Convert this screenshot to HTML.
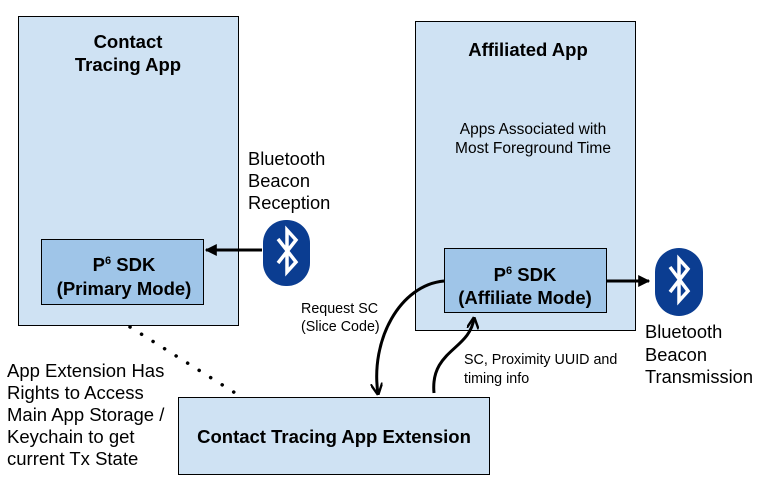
<!DOCTYPE html>
<html><head><meta charset="utf-8"><style>
html,body{margin:0;padding:0;background:#fff;}
svg{display:block;}
text{font-family:"Liberation Sans",Arial,sans-serif;}
</style></head><body>
<svg width="766" height="485" viewBox="0 0 766 485" xmlns="http://www.w3.org/2000/svg">
<defs>
<marker id="ah" viewBox="0 0 10 10" refX="9" refY="5" markerWidth="4" markerHeight="4" orient="auto-start-reverse" markerUnits="strokeWidth">
<path d="M0,0 L10,5 L0,10 z" fill="#000"/></marker>
<marker id="oa" viewBox="0 0 10 10" refX="9" refY="5" markerWidth="4" markerHeight="4" orient="auto" markerUnits="strokeWidth">
<path d="M0,0 L10,5 L0,10" fill="none" stroke="#000" stroke-width="2"/></marker>
</defs>
<rect x="18.5" y="16.5" width="220" height="309" fill="#cfe2f3" stroke="#000" stroke-width="1"/>
<text x="128" y="48" font-size="18.5" font-weight="bold" text-anchor="middle">Contact</text>
<text x="128" y="71" font-size="18.5" font-weight="bold" text-anchor="middle">Tracing App</text>
<rect x="41.5" y="239.5" width="162" height="65" fill="#9fc5e8" stroke="#000"/>
<text x="124" y="271" font-size="18.5" font-weight="bold" text-anchor="middle">P<tspan font-size="11" dy="-7">6</tspan><tspan dy="7"> SDK</tspan></text>
<text x="124" y="295" font-size="18.5" font-weight="bold" text-anchor="middle">(Primary Mode)</text>
<text x="248" y="165" font-size="18.3">Bluetooth</text>
<text x="248" y="187" font-size="18.3">Beacon</text>
<text x="248" y="209" font-size="18.3">Reception</text>
<rect x="263" y="220" width="47" height="66" rx="23" fill="#0b3d91"/>
<path d="M278,239 L296,262 L287,272 L287,230 L296,240 L278,263" fill="none" stroke="#fff" stroke-width="3.5" stroke-linejoin="miter"/>
<line x1="262" y1="250" x2="206" y2="250" stroke="#000" stroke-width="3" marker-end="url(#ah)"/>
<rect x="415.5" y="21.5" width="220" height="309" fill="#cfe2f3" stroke="#000"/>
<text x="528" y="56" font-size="18.5" font-weight="bold" text-anchor="middle">Affiliated App</text>
<text x="533" y="134" font-size="15.5" text-anchor="middle">Apps Associated with</text>
<text x="533" y="153" font-size="15.5" text-anchor="middle">Most Foreground Time</text>
<rect x="444.5" y="248.5" width="162" height="64" fill="#9fc5e8" stroke="#000"/>
<text x="525" y="281" font-size="18.5" font-weight="bold" text-anchor="middle">P<tspan font-size="11" dy="-7">6</tspan><tspan dy="7"> SDK</tspan></text>
<text x="525" y="304" font-size="18.5" font-weight="bold" text-anchor="middle">(Affiliate Mode)</text>
<line x1="607" y1="281" x2="649" y2="281" stroke="#000" stroke-width="3" marker-end="url(#ah)"/>
<rect x="655" y="248" width="48" height="68" rx="24" fill="#0b3d91"/>
<path d="M670,267 L688,291 L679,301 L679,259 L688,269 L670,292" fill="none" stroke="#fff" stroke-width="3.5"/>
<text x="645" y="338" font-size="18.3">Bluetooth</text>
<text x="645" y="361" font-size="18.3">Beacon</text>
<text x="645" y="383" font-size="18.3">Transmission</text>
<rect x="178.5" y="397.5" width="311" height="77" fill="#cfe2f3" stroke="#000"/>
<text x="334" y="443" font-size="18.5" font-weight="bold" text-anchor="middle">Contact Tracing App Extension</text>
<line x1="130" y1="327" x2="240" y2="396" stroke="#000" stroke-width="3.5" stroke-dasharray="0.1 13.5" stroke-linecap="round"/>
<text x="7" y="377" font-size="18.5">App Extension Has</text>
<text x="7" y="399" font-size="18.5">Rights to Access</text>
<text x="7" y="421" font-size="18.5">Main App Storage /</text>
<text x="7" y="443" font-size="18.5">Keychain to get</text>
<text x="7" y="465" font-size="18.5">current Tx State</text>
<path d="M444,281 C400,285 370,340 378,394" fill="none" stroke="#000" stroke-width="3" marker-end="url(#oa)"/>
<path d="M434,393 C430,350 470,350 474,318" fill="none" stroke="#000" stroke-width="3" marker-end="url(#oa)"/>
<text x="301" y="313" font-size="14.3">Request SC</text>
<text x="301" y="331" font-size="14.3">(Slice Code)</text>
<text x="464" y="364" font-size="14.3">SC, Proximity UUID and</text>
<text x="464" y="383" font-size="14.3">timing info</text>
</svg>
</body></html>
